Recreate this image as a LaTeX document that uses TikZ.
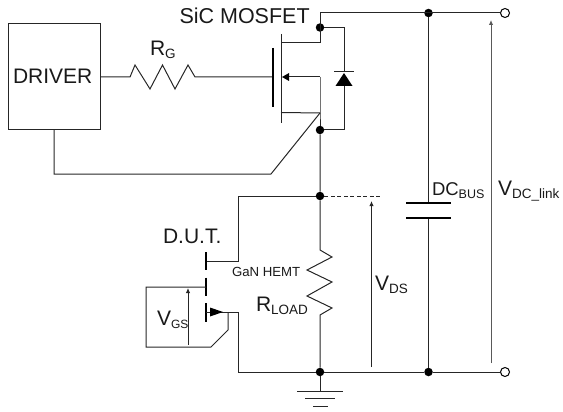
\documentclass[tikz,border=0pt]{standalone}
\usepackage{fontspec}
\setmainfont{Liberation Sans}
\usetikzlibrary{arrows.meta}
\newcommand{\mainsz}{\fontsize{21}{21}\selectfont}
\newcommand{\lab}[2]{{\mainsz #1}{\fontsize{13.5}{13.5}\selectfont\raisebox{-3pt}{#2}}}
\tikzset{
 wire/.style={line width=1pt,black!85},
 thick plate/.style={line width=1.5pt,black},
 dotn/.style={circle,fill=black,inner sep=0pt,minimum size=8.5pt},
 opn/.style={circle,draw=black,fill=white,line width=1pt,inner sep=0pt,minimum size=9pt},
 txt/.style={anchor=base west,inner sep=0pt,outer sep=0pt,text=black!90},
 varrow/.style={wire,-{Latex[length=5pt,width=4.5pt]}}
}
\begin{document}
\begin{tikzpicture}[x=1pt,y=-1pt]
\useasboundingbox (0,0) rectangle (563,412);
% driver
\node[draw=black!85,line width=1pt,minimum width=92pt,minimum height=106pt,inner sep=0pt] (drv) at (54,77) {};
\node[txt] (drvt) at (13,84) {\mainsz DRIVER};
% junction dots and terminals
\node[dotn] (dtop) at (320,27.5) {};
\node[dotn] (dmid) at (320,130) {};
\node[dotn] (dsrc) at (320,196) {};
\node[dotn] (dbot) at (320,372) {};
\node[dotn] (dcapt) at (428.5,13) {};
\node[dotn] (dcapb) at (428.5,372) {};
\node[opn] (ttop) at (505,13) {};
\node[opn] (tbot) at (505,372) {};
% coordinates
\coordinate (rgL) at (130,77);
\coordinate (rgR) at (195,77);
\coordinate (gate) at (273,77);
\coordinate (rlT) at (320,250);
\coordinate (rlB) at (320,315);
\coordinate (corner) at (320,13);
\coordinate (srcJ) at (320,113);
\coordinate (drvB) at (54,130);
\coordinate (capT) at (428.5,203);
\coordinate (capB) at (428.5,218);
% gate resistor
\draw[wire] (drv.east |- rgL) -- (rgL) -- (135,65) -- (150,89) -- (162.5,65) -- (175,89) -- (188,65) -- (rgR) -- (gate);
\draw[thick plate] (273,48) -- (273,107);
% mosfet
\draw[wire] (281,34) -- (281,123);
\draw[wire] (281,43) -- (320,43) -- (corner) -- (ttop);
\draw[wire] (corner) -- (dtop);
\draw[wire] (dtop) -- (320,43);
\draw[wire] (281,112.5) -- (srcJ);
\draw[wire] (320,77) -- (srcJ) -- (dmid);
\draw[wire] (289,77) -- (320,77);
\fill (282,77) -- (289,73) -- (289,81) -- cycle;
% diode
\draw[wire] (dtop) -| (344,72);
\draw[wire] (344,86) |- (dmid);
\fill (344,73) -- (352.5,86) -- (335.5,86) -- cycle;
\draw[wire] (334,72) -- (354,72);
% driver return
\draw[wire] (srcJ) -- (271,174) -- (54,174) -- (drvB);
% down
\draw[wire] (dmid) -- (dsrc) -- (rlT) -- (332,257) -- (307,270) -- (332,282) -- (307,296) -- (332,308) -- (rlB) -- (dbot);
\draw[wire,dashed,dash pattern=on 4pt off 2.5pt,line width=.8pt] (dsrc) -- (382,196);
% ground
\draw[wire] (dbot) -- (320,391);
\draw[wire] (297,391) -- (343,391);
\draw[wire] (305,398.5) -- (335,398.5);
\draw[wire] (313,406) -- (328,406);
% bottom rail
\draw[wire] (238,312) -- (238,372) -- (dbot) -- (dcapb) -- (tbot);
% cap
\draw[wire] (dcapt) -- (capT);
\draw[wire] (capB) -- (dcapb);
\draw[thick plate] (406,203) -- (451,203);
\draw[thick plate] (406,218) -- (451,218);
% GaN
\draw[wire] (dsrc) -- (238,196) -- (238,261) -- (206,261);
\draw[thick plate] (206,252) -- (206,270);
\draw[thick plate] (206,277.5) -- (206,296);
\draw[thick plate] (206,303) -- (206,322);
\draw[wire] (206,312) -- (238,312);
\fill (223,312) -- (210,307.5) -- (210,316.5) -- cycle;
\draw[wire] (206,287) -- (146,287) -- (146,347) -- (211,347) -- (228,330) -- (228,312);
% voltage arrows
\draw[varrow] (188,345) -- (188,288);
\draw[varrow] (371.5,367) -- (371.5,201);
\draw[varrow,black!65] (491,363) -- (491,20);
% labels
\node[txt] (lmos) at (179.5,23.5) {\fontsize{21.5}{21.5}\selectfont SiC MOSFET};
\node[txt] (lrg) at (150,56) {\lab{R}{G}};
\node[txt] (ldut) at (163,243) {\mainsz D.U.T.};
\node[txt] (lgan) at (232,276) {\fontsize{13.2}{13.2}\selectfont GaN HEMT};
\node[txt] (lrl) at (256,311) {\lab{R}{LOAD}};
\node[txt] (lvgs) at (157,325) {{\mainsz V}{\fontsize{12}{12}\selectfont\raisebox{-3pt}{GS}}};
\node[txt] (lvds) at (375,290) {\lab{V}{DS}};
\node[txt] (ldc) at (432,195) {{\fontsize{18.5}{18.5}\selectfont DC}{\fontsize{12.5}{12.5}\selectfont\raisebox{-3pt}{BUS}}};
\node[txt] (lvdc) at (498,195) {\lab{V}{DC\_link}};
\end{tikzpicture}
\end{document}
